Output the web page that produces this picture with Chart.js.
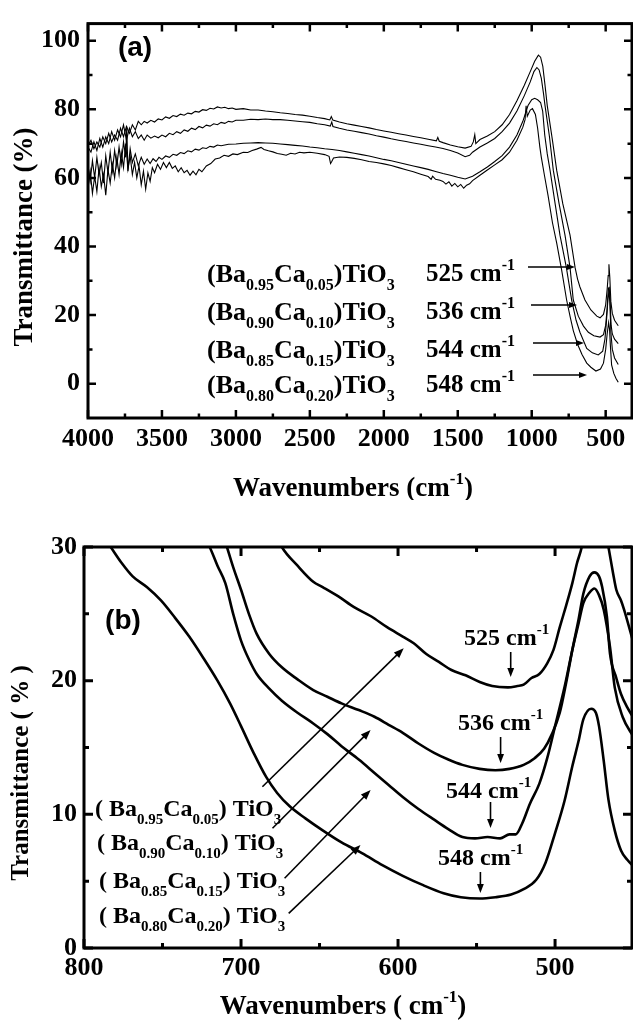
<!DOCTYPE html>
<html>
<head>
<meta charset="utf-8">
<script src="https://cdn.jsdelivr.net/npm/chart.js@4.4.1/dist/chart.umd.min.js"></script>
<style>
  html, body { margin: 0; padding: 0; background: #fff; }
  #wrap { position: relative; width: 633px; height: 1030px; overflow: hidden; }
  canvas { position: absolute; left: 0; }
</style>
</head>
<body>
<div id="wrap">
  <canvas id="panelA" width="633" height="500" style="top:0px"></canvas>
  <canvas id="panelB" width="633" height="530" style="top:500px"></canvas>
</div>
<script>
var SERIF = '"Liberation Serif", "Times New Roman", Times, serif';
var SANS = '"Liberation Sans", Arial, Helvetica, sans-serif';

// composition labels, one per curve (top to bottom)
var fracBa = ['0.95', '0.90', '0.85', '0.80'];
var fracCa = ['0.05', '0.10', '0.15', '0.20'];
var bandPos = ['525', '536', '544', '548'];

// panel (a): [wavenumber, transmittance]
var fullA = [[4000,69.5],[3980,71.0],[3960,68.5],[3940,70.5],[3920,69.0],[3900,72.0],[3880,70.0],[3860,73.0],[3840,70.5],[3820,72.5],
  [3800,71.0],[3780,74.5],[3760,72.0],[3740,75.0],[3720,73.0],[3700,75.5],[3680,74.0],[3660,76.5],[3640,75.5],[3620,76.5],
  [3600,76.0],[3575,76.8],[3550,76.3],[3525,77.2],[3500,76.9],[3475,77.8],[3450,77.4],[3425,78.2],[3400,77.9],[3375,78.6],
  [3350,78.3],[3325,78.9],[3300,78.7],[3275,79.4],[3250,79.2],[3225,79.9],[3200,79.7],[3175,80.3],[3150,80.1],[3125,80.7],
  [3100,80.4],[3075,80.6],[3050,80.2],[3025,80.4],[3000,80.0],[2950,80.2],[2900,79.8],[2850,79.8],[2800,79.5],[2750,79.3],
  [2700,79.0],[2650,78.8],[2600,78.5],[2550,78.3],[2500,78.0],[2450,77.6],[2400,77.3],[2365,76.9],[2355,77.9],[2345,76.9],
  [2300,76.3],[2250,75.8],[2200,75.4],[2150,75.0],[2100,74.6],[2050,74.1],[2000,73.7],[1950,73.3],[1900,72.9],[1850,72.5],
  [1800,72.1],[1750,71.7],[1700,71.3],[1645,70.8],[1635,71.8],[1625,70.7],[1600,70.3],[1550,69.6],[1500,69.1],[1450,68.7],
  [1410,69.2],[1395,70.5],[1385,72.6],[1378,70.0],[1350,71.2],[1300,72.2],[1250,73.5],[1200,75.5],[1150,78.5],[1100,82.5],
  [1050,87.0],[1010,91.0],[980,94.0],[955,95.8],[940,95.2],[925,92.5],[910,87.0],[895,81.1],[860,71.0],[831,62.2],
  [790,52.5],[741,43.3],[707,33.9],[690,30.5],[674,28.2],[640,24.4],[600,21.5],[560,19.7],[538,19.2],[515,20.2],
  [500,23.0],[490,27.5],[483,31.5],[478,34.8],[472,31.0],[465,24.0],[455,20.5],[440,18.5],[415,16.9]];

var fullB = [[4000,69.0],[3980,67.5],[3960,70.5],[3940,68.0],[3920,71.5],[3900,69.0],[3880,72.0],[3860,70.0],[3840,73.5],[3820,71.0],
  [3800,74.0],[3780,72.0],[3760,75.5],[3740,71.0],[3720,74.5],[3700,72.0],[3680,73.5],[3660,71.5],[3640,72.5],[3620,71.0],
  [3600,72.5],[3575,71.6],[3550,72.2],[3525,71.7],[3500,72.5],[3475,72.0],[3450,73.0],[3425,72.6],[3400,73.5],[3375,73.0],
  [3350,74.0],[3325,73.6],[3300,74.5],[3275,74.1],[3250,75.0],[3225,74.6],[3200,75.4],[3175,75.1],[3150,75.8],[3125,75.5],
  [3100,76.2],[3075,75.9],[3050,76.5],[3025,76.3],[3000,76.8],[2950,76.8],[2900,77.1],[2850,77.0],[2800,77.2],[2750,77.0],
  [2700,77.0],[2650,76.8],[2600,76.6],[2550,76.4],[2500,76.2],[2450,75.8],[2400,75.5],[2362,75.1],[2352,76.3],[2344,75.0],
  [2300,74.5],[2250,74.0],[2200,73.6],[2150,73.2],[2100,72.8],[2050,72.3],[2000,71.9],[1950,71.4],[1900,71.0],[1850,70.6],
  [1800,70.2],[1750,69.8],[1700,69.4],[1650,69.0],[1600,68.6],[1550,68.0],[1500,67.3],[1450,66.2],[1420,66.6],[1400,67.5],
  [1350,69.0],[1300,70.2],[1250,71.5],[1200,73.5],[1150,76.0],[1100,79.5],[1050,84.0],[1010,88.0],[985,91.0],[965,92.2],
  [950,91.5],[935,89.0],[920,84.5],[910,81.1],[880,72.0],[854,62.2],[815,52.5],[775,43.3],[741,33.9],[719,24.4],
  [685,19.7],[650,16.8],[617,15.0],[580,14.0],[538,13.6],[515,14.3],[500,17.0],[490,22.0],[482,27.8],[476,28.0],
  [470,24.0],[463,17.0],[455,14.5],[440,13.0],[415,11.7]];

var fullC = [[4000,63.5],[3985,59.0],[3970,65.0],[3955,60.0],[3940,66.0],[3925,61.0],[3910,64.5],[3895,58.5],[3880,66.5],[3865,61.5],
  [3850,67.5],[3835,62.0],[3820,68.0],[3805,63.5],[3790,69.0],[3775,64.0],[3760,70.5],[3745,66.0],[3738,75.0],[3730,62.0],
  [3715,68.5],[3700,64.5],[3680,67.0],[3660,63.5],[3640,66.0],[3620,64.0],[3600,65.5],[3580,64.2],[3560,65.6],[3540,64.8],
  [3520,66.0],[3500,65.4],[3475,66.4],[3450,66.0],[3425,66.9],[3400,66.6],[3375,67.4],[3350,67.1],[3325,67.9],[3300,67.6],
  [3275,68.4],[3250,68.1],[3225,68.8],[3200,68.6],[3175,69.2],[3150,69.0],[3125,69.6],[3100,69.4],[3050,69.8],[3000,69.9],
  [2950,70.1],[2900,70.2],[2850,70.3],[2800,70.2],[2750,70.1],[2700,69.9],[2650,69.7],[2600,69.5],[2550,69.3],[2500,69.0],
  [2450,68.8],[2400,68.5],[2350,68.3],[2300,68.0],[2250,67.6],[2200,67.2],[2150,66.8],[2100,66.4],[2050,65.9],[2000,65.4],
  [1950,65.0],[1900,64.5],[1850,64.0],[1800,63.5],[1750,63.0],[1700,62.5],[1650,61.9],[1600,61.3],[1550,60.8],[1500,60.2],
  [1450,59.7],[1400,60.5],[1350,61.8],[1300,63.2],[1250,64.8],[1200,66.5],[1150,69.0],[1100,72.5],[1060,76.5],[1025,81.1],
  [1000,82.8],[980,83.2],[960,82.8],[940,82.0],[926,79.5],[912,72.5],[895,67.0],[876,62.2],[840,52.0],[809,43.3],
  [766,33.9],[730,24.4],[700,18.5],[674,15.0],[628,10.3],[590,9.0],[550,8.4],[520,9.5],[505,13.0],[495,18.0],
  [485,24.5],[478,27.0],[472,24.0],[465,15.0],[455,10.0],[440,7.5],[415,5.6]];

var fullD = [[4000,57.0],[3985,62.0],[3970,55.5],[3955,60.5],[3940,56.0],[3925,63.0],[3910,57.5],[3895,61.0],[3880,55.0],[3865,62.5],
  [3850,58.5],[3835,64.0],[3820,60.0],[3805,66.0],[3790,61.0],[3775,67.5],[3760,63.0],[3745,70.0],[3730,62.5],[3715,66.5],
  [3700,61.0],[3685,64.5],[3670,60.0],[3655,63.5],[3640,58.0],[3625,62.0],[3610,56.7],[3595,61.5],[3580,59.0],[3565,63.0],
  [3550,61.5],[3530,64.0],[3510,62.5],[3490,64.5],[3470,63.0],[3450,64.5],[3430,62.8],[3410,63.5],[3390,61.8],[3370,63.0],
  [3350,61.5],[3330,62.2],[3310,60.8],[3290,62.0],[3270,60.9],[3250,62.5],[3230,61.8],[3200,63.5],[3170,64.2],[3140,65.5],
  [3110,65.8],[3080,66.6],[3050,66.3],[3020,67.0],[2990,66.8],[2950,67.5],[2920,67.4],[2890,68.0],[2860,68.4],[2830,68.9],
  [2810,68.3],[2780,67.9],[2750,67.6],[2720,67.1],[2690,66.9],[2660,66.6],[2630,67.2],[2600,67.0],[2570,67.5],[2540,67.3],
  [2500,67.5],[2450,67.2],[2400,66.8],[2370,66.3],[2360,64.2],[2352,64.8],[2340,65.8],[2300,66.1],[2250,66.0],[2200,65.7],
  [2150,65.3],[2100,64.8],[2050,64.5],[2000,64.1],[1950,63.6],[1900,63.0],[1850,62.4],[1800,61.8],[1750,61.1],[1700,60.4],
  [1680,59.6],[1670,60.5],[1650,59.6],[1620,59.3],[1600,59.0],[1580,58.2],[1560,58.9],[1540,57.6],[1520,58.4],[1500,57.4],
  [1480,58.1],[1460,57.0],[1440,57.9],[1420,58.3],[1400,59.2],[1350,60.8],[1300,62.3],[1250,63.8],[1200,65.3],[1150,67.5],
  [1100,71.0],[1060,74.8],[1045,77.0],[1038,81.0],[1030,78.0],[1010,79.8],[995,80.2],[975,78.5],[960,74.5],[945,69.0],
  [935,66.0],[915,61.0],[890,55.0],[860,47.0],[831,41.0],[797,33.0],[764,24.4],[740,19.5],[719,15.5],[690,11.5],
  [660,8.5],[628,6.0],[600,4.8],[566,3.7],[535,4.3],[515,6.0],[500,10.0],[490,14.5],[480,17.8],[474,16.0],
  [468,11.0],[460,5.5],[445,3.0],[430,1.5],[415,0.4]];

// panel (b): the 800-450 cm-1 region
var zoomA = [[680,31.5],[674,30.0],[664,28.6],[654,27.4],[648,27.0],[638,26.3],[628,25.5],[617,24.8],[607,24.0],[597,23.3],
  [590,22.8],[582,22.0],[574,21.4],[566,20.8],[557,20.4],[548,19.9],[540,19.6],[530,19.5],[524,19.6],[520,19.7],
  [515,20.2],[510,20.5],[505,21.3],[501,22.3],[497,24.0],[493,25.6],[489,27.3],[486,28.8],[483,30.0],[477,34.0],
  [471,33.0],[466,30.0],[463,28.0],[461,26.8],[458,26.0],[456,25.3],[450,22.8]];

var zoomB = [[712,31.0],[709,30.0],[705,28.5],[700,26.8],[695,25.0],[690,23.5],[682,22.0],[674,21.0],[664,20.1],[654,19.3],
  [645,18.8],[636,18.3],[625,17.8],[615,17.3],[606,16.7],[597,16.1],[587,15.3],[577,14.6],[568,14.1],[559,13.7],
  [548,13.4],[538,13.3],[529,13.4],[520,13.7],[513,14.2],[507,14.9],[502,16.0],[497,17.6],[493,19.8],[489,22.3],
  [485,24.6],[482,26.5],[478,27.8],[475,28.1],[472,27.8],[470,27.0],[467,24.8],[465,22.0],[461,20.2],[458,19.0],
  [454,18.0],[450,17.2]];

var zoomC = [[725,31.0],[720,30.0],[715,28.6],[710,27.3],[705,25.0],[700,23.0],[695,21.6],[690,20.5],[682,19.4],[674,18.5],
  [664,17.6],[654,16.8],[645,16.0],[636,15.1],[625,14.1],[615,13.1],[606,12.2],[597,11.3],[587,10.4],[577,9.6],
  [568,8.9],[559,8.3],[551,8.2],[543,8.3],[535,8.2],[529,8.5],[525,8.5],[521,9.3],[516,10.8],[510,12.3],
  [505,14.2],[500,16.6],[494,19.5],[489,22.3],[485,24.3],[482,25.8],[478,26.6],[475,26.9],[472,26.4],[469,25.3],
  [465,22.5],[462,19.5],[457,17.3],[450,15.8]];

var zoomD = [[795,32.0],[783,30.0],[776,28.8],[769,27.8],[760,27.0],[751,26.0],[742,24.7],[733,23.3],[724,21.7],[715,20.0],
  [707,18.3],[700,16.6],[692,14.6],[684,12.8],[677,11.6],[669,10.6],[659,9.7],[648,8.8],[636,7.9],[623,7.1],
  [610,6.2],[597,5.4],[584,4.7],[571,4.1],[560,3.8],[548,3.7],[538,3.8],[528,4.0],[520,4.4],[512,5.1],
  [506,6.4],[500,8.6],[494,11.0],[489,13.6],[485,15.5],[482,17.1],[477,17.9],[474,17.6],[472,16.6],[469,14.0],
  [466,11.1],[462,8.8],[458,7.3],[454,6.6],[450,6.1]];

// ticks
var xTicksA = [4000, 3500, 3000, 2500, 2000, 1500, 1000, 500];
var xMinorA = [3750, 3250, 2750, 2250, 1750, 1250, 750];
var yTicksA = [0, 20, 40, 60, 80, 100];
var yMinorA = [10, 30, 50, 70, 90];
var xTicksB = [800, 700, 600, 500];
var xMinorB = [750, 650, 550];
var yTicksB = [0, 10, 20, 30];
var yMinorB = [5, 15, 25];

Chart.defaults.color = '#000';
Chart.defaults.font.family = SERIF;

// text made of pieces: [text] normal, [text,'sub'], [text,'sup']; cy = middle of capitals
function richText(ctx, x, cy, parts, size, align) {
  var base = cy + size * 0.33;
  var fonts = parts.map(function (p) {
    return 'bold ' + (p[1] ? Math.round(size * 0.62) : size) + 'px ' + SERIF;
  });
  var widths = parts.map(function (p, i) { ctx.font = fonts[i]; return ctx.measureText(p[0]).width; });
  var total = widths.reduce(function (s, w) { return s + w; }, 0);
  var cx = align === 'center' ? x - total / 2 : x;
  ctx.textAlign = 'left';
  ctx.textBaseline = 'alphabetic';
  parts.forEach(function (p, i) {
    var dy = p[1] === 'sub' ? size * 0.33 : (p[1] === 'sup' ? -size * 0.45 : 0);
    ctx.font = fonts[i];
    ctx.fillText(p[0], cx, base + dy);
    cx += widths[i];
  });
}

function verticalTitle(ctx, cx, cy, parts, size) {
  ctx.save();
  ctx.translate(cx, cy);
  ctx.rotate(-Math.PI / 2);
  richText(ctx, 0, 0, parts, size, 'center');
  ctx.restore();
}

function arrow(ctx, x1, y1, x2, y2, lw, head) {
  var a = Math.atan2(y2 - y1, x2 - x1), c = Math.cos(a), s = Math.sin(a), w = head * 0.38;
  ctx.lineWidth = lw;
  ctx.beginPath();
  ctx.moveTo(x1, y1);
  ctx.lineTo(x2 - c * head * 0.8, y2 - s * head * 0.8);
  ctx.stroke();
  ctx.beginPath();
  ctx.moveTo(x2, y2);
  ctx.lineTo(x2 - c * head + w * s, y2 - s * head - w * c);
  ctx.lineTo(x2 - c * head - w * s, y2 - s * head + w * c);
  ctx.closePath();
  ctx.fill();
}

// box round the plot with inward ticks on all four sides, then the labels
function framePlugin(o) {
  return {
    id: 'frame',
    afterDatasetsDraw: function (chart) {
      var ctx = chart.ctx, a = chart.chartArea, x = chart.scales.x, y = chart.scales.y;
      ctx.save();
      ctx.strokeStyle = '#000';
      ctx.lineWidth = o.tickWidth;
      ctx.beginPath();
      function xt(v, len) {
        var p = x.getPixelForValue(v);
        if (p < a.left || p > a.right) return;
        ctx.moveTo(p, a.bottom); ctx.lineTo(p, a.bottom - len);
        ctx.moveTo(p, a.top); ctx.lineTo(p, a.top + len);
      }
      function yt(v, len) {
        var p = y.getPixelForValue(v);
        if (p < a.top || p > a.bottom) return;
        ctx.moveTo(a.left, p); ctx.lineTo(a.left + len, p);
        ctx.moveTo(a.right, p); ctx.lineTo(a.right - len, p);
      }
      o.xMajor.forEach(function (v) { xt(v, o.major); });
      o.xMinor.forEach(function (v) { xt(v, o.minor); });
      o.yMajor.forEach(function (v) { yt(v, o.major); });
      o.yMinor.forEach(function (v) { yt(v, o.minor); });
      ctx.stroke();
      ctx.lineWidth = o.frameWidth;
      ctx.strokeRect(a.left, a.top, a.right - a.left, a.bottom - a.top);
      ctx.restore();
    },
    afterDraw: function (chart) {
      var ctx = chart.ctx;
      ctx.save();
      ctx.fillStyle = '#000';
      ctx.strokeStyle = '#000';
      o.labels(ctx);
      ctx.restore();
    }
  };
}

function plainNumber(v) { return String(v); }

function spectrumChart(id, series, o) {
  var tickFont = { family: SERIF, weight: 'bold', size: 26 };
  return new Chart(document.getElementById(id), {
    type: 'line',
    data: {
      datasets: series.map(function (s) {
        return {
          data: s.map(function (p) { return { x: p[0], y: p[1] }; }),
          borderColor: '#000',
          borderWidth: o.lineWidth,
          pointRadius: 0,
          fill: false,
          tension: o.smooth ? 0.4 : 0,
          cubicInterpolationMode: o.smooth ? 'monotone' : 'default'
        };
      })
    },
    options: {
      responsive: false,
      animation: false,
      devicePixelRatio: 1,
      layout: { padding: { top: o.padTop, right: 1, left: 0, bottom: 0 } },
      plugins: { legend: { display: false }, tooltip: { enabled: false } },
      scales: {
        x: {
          type: 'linear', reverse: true, min: o.xMin, max: o.xMax,
          afterBuildTicks: function (s) { s.ticks = o.xTicks.map(function (v) { return { value: v }; }); },
          afterFit: function (s) { s.height = o.xHeight; },
          grid: { display: false, drawTicks: false },
          border: { display: false },
          ticks: { font: tickFont, color: '#000', padding: o.xPad, maxRotation: 0, autoSkip: false, callback: plainNumber }
        },
        y: {
          min: o.yMin, max: o.yMax,
          afterBuildTicks: function (s) { s.ticks = o.yTicks.map(function (v) { return { value: v }; }); },
          afterFit: function (s) { s.width = o.yWidth; },
          grid: { display: false, drawTicks: false },
          border: { display: false },
          ticks: { font: tickFont, color: '#000', padding: o.yPad, autoSkip: false, callback: plainNumber }
        }
      }
    },
    plugins: [framePlugin(o.frame)]
  });
}

// (a) full spectra
spectrumChart('panelA', [fullA, fullB, fullC, fullD], {
  lineWidth: 1.1, smooth: false, padTop: 13,
  xMin: 322, xMax: 4000, xTicks: xTicksA, xHeight: 82, xPad: 6,
  yMin: -10, yMax: 105, yTicks: yTicksA, yWidth: 88, yPad: 8,
  frame: {
    xMajor: xTicksA, xMinor: xMinorA, yMajor: yTicksA, yMinor: yMinorA,
    major: 8, minor: 4.5, tickWidth: 2.5, frameWidth: 3,
    labels: function (ctx) {
      ctx.font = 'bold 28px ' + SANS;
      ctx.textAlign = 'center';
      ctx.textBaseline = 'middle';
      ctx.fillText('(a)', 135, 48);
      var rows = [273, 311, 349, 384];
      var tips = [[528, 575, 267], [531, 577, 305], [533, 584, 343], [533, 587, 375]];
      rows.forEach(function (cy, i) {
        richText(ctx, 207, cy, [['(Ba'], [fracBa[i], 'sub'], ['Ca'], [fracCa[i], 'sub'], [')TiO'], ['3', 'sub']], 26);
        richText(ctx, 426, cy, [[bandPos[i] + ' cm'], ['-1', 'sup']], 25);
        arrow(ctx, tips[i][0], tips[i][2], tips[i][1], tips[i][2], 1.3, 8);
      });
      verticalTitle(ctx, 23, 237, [['Transmittance (%)']], 27);
      richText(ctx, 353, 487, [['Wavenumbers (cm'], ['-1', 'sup'], [')']], 27, 'center');
    }
  }
});

// (b) close-up of the Ti-O band
spectrumChart('panelB', [zoomA, zoomB, zoomC, zoomD], {
  lineWidth: 2.6, smooth: true, padTop: 47,
  xMin: 451, xMax: 800, xTicks: xTicksB, xHeight: 82, xPad: 5,
  yMin: 0, yMax: 30, yTicks: yTicksB, yWidth: 84, yPad: 7,
  frame: {
    xMajor: xTicksB, xMinor: xMinorB, yMajor: yTicksB, yMinor: yMinorB,
    major: 9, minor: 5, tickWidth: 3, frameWidth: 3,
    labels: function (ctx) {
      ctx.font = 'bold 28px ' + SANS;
      ctx.textAlign = 'center';
      ctx.textBaseline = 'middle';
      ctx.fillText('(b)', 123, 121);
      var marks = [[464, 137, 510.7, 152, 177], [458, 222, 500.6, 237, 263], [446, 290, 490.5, 302, 328], [438, 357, 480.4, 372, 393]];
      marks.forEach(function (m, i) {
        richText(ctx, m[0], m[1], [[bandPos[i] + ' cm'], ['-1', 'sup']], 24);
        arrow(ctx, m[2], m[3], m[2], m[4], 1.6, 9);
      });
      var rows = [[95, 308], [97, 342], [99, 380], [99, 415]];
      var links = [[262.4, 286.7, 403.7, 148.3], [272.5, 328.3, 370.6, 230], [284.6, 378.3, 370.6, 290], [288.7, 413.3, 360.5, 345]];
      rows.forEach(function (r, i) {
        richText(ctx, r[0], r[1], [['( Ba'], [fracBa[i], 'sub'], ['Ca'], [fracCa[i], 'sub'], [') TiO'], ['3', 'sub']], 24);
        arrow(ctx, links[i][0], links[i][1], links[i][2], links[i][3], 1.6, 10);
      });
      verticalTitle(ctx, 20, 273, [['Transmittance ( % )']], 25);
      richText(ctx, 343, 505, [['Wavenumbers ( cm'], ['-1', 'sup'], [')']], 27, 'center');
    }
  }
});
</script>
</body>
</html>
